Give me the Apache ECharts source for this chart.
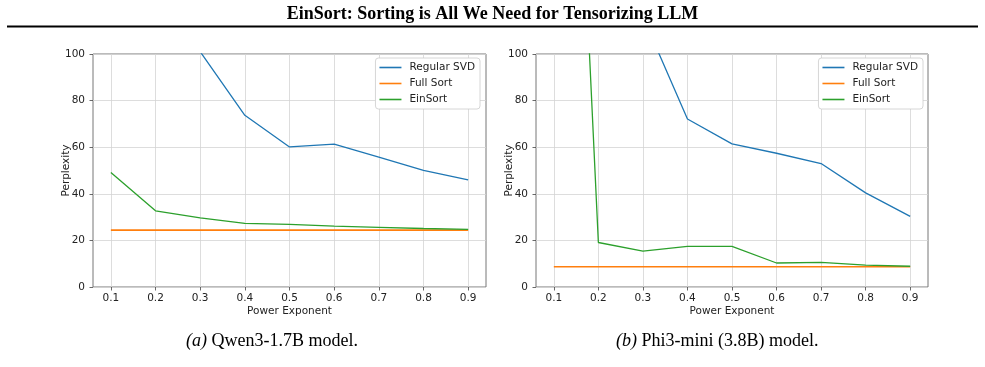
<!DOCTYPE html>
<html>
<head>
<meta charset="utf-8">
<script src="https://cdn.jsdelivr.net/npm/echarts@6/dist/echarts.min.js"></script>
<style>
html,body{margin:0;padding:0;background:#fff;}
#c{width:985px;height:367px;}
</style>
</head>
<body>
<div id="c"></div>
<script>
// ---- data ----
const powerExponent = [0.1, 0.2, 0.3, 0.4, 0.5, 0.6, 0.7, 0.8, 0.9];
const xTickValues = [0.1, 0.2, 0.3, 0.4, 0.5, 0.6, 0.7, 0.8, 0.9];
const yTickValues = [0, 20, 40, 60, 80, 100];
const seriesNames = ['Regular SVD', 'Full Sort', 'EinSort'];
// (a) Qwen3-1.7B  (values above 100 are off the chart, estimated)
const qwenRegularSVD = [400, 200, 101, 73.7, 60.1, 61.3, 55.7, 50.1, 46.0];
const qwenFullSort   = [24.4, 24.4, 24.4, 24.4, 24.4, 24.4, 24.4, 24.4, 24.4];
const qwenEinSort    = [49.1, 32.7, 29.7, 27.3, 26.9, 26.1, 25.6, 25.1, 24.7];
// (b) Phi3-mini (3.8B)
const phiRegularSVD  = [600, 300, 116, 72.1, 61.4, 57.4, 53.0, 40.4, 30.3];
const phiFullSort    = [8.7, 8.7, 8.7, 8.7, 8.7, 8.7, 8.7, 8.7, 8.7];
const phiEinSort     = [425, 19.1, 15.4, 17.4, 17.4, 10.3, 10.6, 9.4, 8.9];

const colors = ['#1f77b4', '#ff7f0e', '#2ca02c'];
const pairs = arr => powerExponent.map((x, i) => [x, arr[i]]);

const chart = echarts.init(document.getElementById('c'), null, {renderer: 'canvas'});

const tickFont = {fontFamily: 'DejaVu Sans', fontSize: 10.5, color: '#222'};

function makeX(gridIndex) {
  return {
    type: 'value', gridIndex, min: 0.06, max: 0.94,
    name: 'Power Exponent', nameLocation: 'middle', nameGap: 18.5, nameMoveOverlap: false,
    nameTextStyle: tickFont,
    axisLine: {show: false},
    axisTick: {show: true, inside: false, length: 3.5, customValues: xTickValues, lineStyle: {color: '#444', width: 0.8}},
    axisLabel: Object.assign({margin: 6, customValues: xTickValues, formatter: v => v.toFixed(1)}, tickFont),
    splitLine: {show: true, lineStyle: {color: '#d4d4d4', width: 0.8}}
  };
}
function makeY(gridIndex) {
  return {
    type: 'value', gridIndex, min: 0, max: 100, interval: 20,
    name: 'Perplexity', nameLocation: 'middle', nameGap: 21, nameMoveOverlap: false,
    nameTextStyle: tickFont,
    axisLine: {show: false},
    axisTick: {show: true, inside: false, length: 3.5, lineStyle: {color: '#444', width: 0.8}},
    axisLabel: Object.assign({margin: 8}, tickFont),
    splitLine: {show: true, lineStyle: {color: '#d4d4d4', width: 0.8}}
  };
}
function makeLegend(right) {
  return {
    orient: 'vertical', right, top: 58,
    data: seriesNames,
    icon: 'rect', itemWidth: 22, itemHeight: 1.6, itemGap: 1,
    textStyle: {fontFamily: 'DejaVu Sans', fontSize: 10.5, color: '#222', lineHeight: 15, padding: [0, 0, 0, 3]},
    backgroundColor: '#fff', borderColor: '#ccc', borderWidth: 0.8, borderRadius: 3,
    padding: [2, 5, 2, 4]
  };
}
function makeSeries(name, data, axisIdx, color) {
  return {
    type: 'line', name, data: pairs(data),
    xAxisIndex: axisIdx, yAxisIndex: axisIdx,
    showSymbol: false, symbol: 'none', clip: true, animation: false,
    lineStyle: {color, width: name === 'Full Sort' ? 1.6 : 1.3},
    itemStyle: {color}
  };
}

const captionStyle = {
  fontFamily: 'Liberation Serif', fontSize: 18, fontWeight: 'normal', color: '#000',
  rich: {
    i: {fontFamily: 'Liberation Serif', fontStyle: 'italic', fontWeight: 'normal', fontSize: 18, color: '#000'},
    n: {fontFamily: 'Liberation Serif', fontWeight: 'normal', fontSize: 18, color: '#000'}
  }
};

chart.setOption({
  animation: false,
  color: colors,
  title: [
    {text: 'EinSort: Sorting is All We Need for Tensorizing LLM', left: 'center', top: 0,
     textStyle: {fontFamily: 'Liberation Serif', fontWeight: 'bold', fontSize: 18, color: '#000'}},
    {text: '{i|(a)}{n| Qwen3-1.7B model.}', left: 181, top: 327, textStyle: captionStyle},
    {text: '{i|(b)}{n| Phi3-mini (3.8B) model.}', left: 611, top: 327, textStyle: captionStyle}
  ],
  graphic: [
    {type: 'line', shape: {x1: 7, y1: 26.5, x2: 978, y2: 26.5}, style: {stroke: '#000', lineWidth: 2.2}}
  ],
  legend: [makeLegend(985 - 480), makeLegend(985 - 923)],
  grid: [
    {left: 93, top: 54, width: 393, height: 233, show: true, borderColor: '#777', borderWidth: 1, backgroundColor: 'transparent'},
    {left: 536, top: 54, width: 392, height: 233, show: true, borderColor: '#777', borderWidth: 1, backgroundColor: 'transparent'}
  ],
  xAxis: [makeX(0), makeX(1)],
  yAxis: [makeY(0), makeY(1)],
  series: [
    makeSeries(seriesNames[0], qwenRegularSVD, 0, colors[0]),
    makeSeries(seriesNames[1], qwenFullSort, 0, colors[1]),
    makeSeries(seriesNames[2], qwenEinSort, 0, colors[2]),
    makeSeries(seriesNames[0], phiRegularSVD, 1, colors[0]),
    makeSeries(seriesNames[1], phiFullSort, 1, colors[1]),
    makeSeries(seriesNames[2], phiEinSort, 1, colors[2])
  ]
});
</script>
</body>
</html>
